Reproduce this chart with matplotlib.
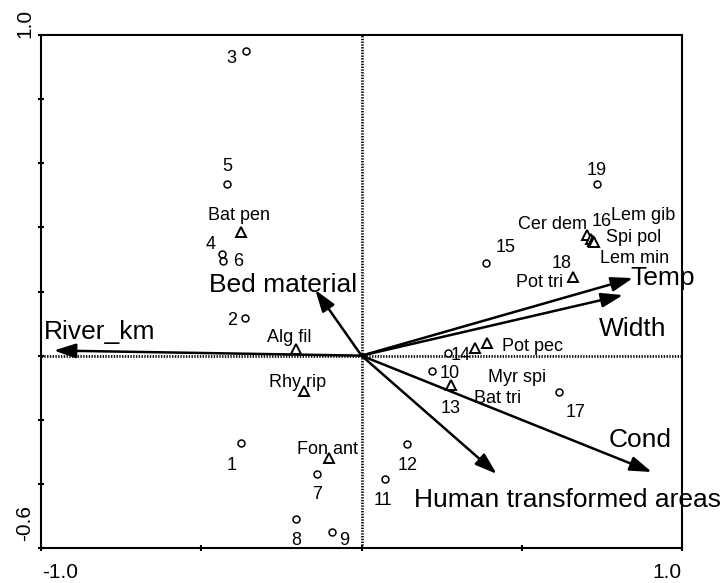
"""
CCA biplot — sites (circles), species (triangles), environmental arrows.
"""

import matplotlib
matplotlib.use('Agg')
import matplotlib.pyplot as plt

plt.rcParams['font.family'] = ['Liberation Sans', 'DejaVu Sans']

# ── Data ─────────────────────────────────────────────────────────────────────
site_names = ['1', '2', '3', '4', '5', '6', '7', '8', '9', '10',
              '11', '12', '13', '14', '15', '16', '17', '18', '19']
site_x = [-0.375, -0.363, -0.359, -0.434, -0.419, -0.431, -0.138, -0.203, -0.091, 0.219,
          0.072, 0.141, 0.278, 0.269, 0.388, 0.713, 0.616, 0.659, 0.734]
site_y = [-0.273, 0.117, 0.950, 0.317, 0.535, 0.295, -0.369, -0.510, -0.550, -0.048,
          -0.385, -0.276, -0.092, 0.008, 0.289, 0.367, -0.114, 0.245, 0.535]

sp_names = ['Bat pen', 'Alg fil', 'Rhy rip', 'Fon ant', 'Bat tri', 'Myr spi',
            'Pot pec', 'Pot tri', 'Cer dem', 'Lem gib', 'Spi pol', 'Lem min']
sp_x = [-0.375, -0.203, -0.178, -0.100, 0.278, 0.353,
        0.391, 0.659, 0.703, 0.716, 0.722, 0.725]
sp_y = [0.385, 0.020, -0.110, -0.319, -0.092, 0.024,
        0.039, 0.245, 0.376, 0.363, 0.357, 0.354]

env_names = ['River_km', 'Bed material', 'Temp', 'Width', 'Cond',
             'Human transformed areas']
env_x = [-0.960, -0.144, 0.847, 0.816, 0.906, 0.422]
env_y = [0.016, 0.205, 0.242, 0.189, -0.363, -0.369]

# ── Label placement (offsets in pixels from the point) ──────────────────────
SITE_OFF = {'1': (-10, -22), '2': (-13, -2), '3': (-15, -7), '4': (-12, 10),
            '5': (0, 18), '6': (15, 0), '7': (0, -21), '8': (0, -21),
            '9': (12, -9), '10': (18, -2), '11': (-2, -21), '12': (1, -21),
            '13': (0, -23), '14': (13, -2), '15': (20, 15), '16': (12, 16),
            '17': (17, -20), '18': (-11, 14), '19': (0, 14)}
HIDDEN_SITES = {'13', '16', '18'}   # markers lie under species triangles

SP_OFF = {'Bat pen': (-2, 17), 'Alg fil': (-7, 12), 'Rhy rip': (-7, 8),
          'Fon ant': (-2, 8), 'Bat tri': (47, -13), 'Myr spi': (42, -30),
          'Pot pec': (46, -3), 'Pot tri': (-33, -5), 'Cer dem': (-34, 11),
          'Lem gib': (52, 24), 'Spi pol': (41, 4), 'Lem min': (41, -16)}

ENV_OFF = {'River_km': (46, 19), 'Bed material': (-32, 5), 'Temp': (30, 0),
           'Width': (10, -34), 'Cond': (-12, 32),
           'Human transformed areas': (71, -26)}

FS_SMALL = 13
FS_ENV = 19
FS_TICK = 15


def main():
    fig = plt.figure(figsize=(7.26, 5.83), dpi=100)
    ax = fig.add_axes([0.0565, 0.0600, 0.8829, 0.8799])
    ax.set_xlim(-1.0, 1.0)
    ax.set_ylim(-0.6, 1.0)

    for sp in ax.spines.values():
        sp.set_linewidth(1.5)
    ax.set_xticks([-1.0, -0.5, 0.0, 0.5, 1.0])
    ax.set_yticks([-0.6, -0.4, -0.2, 0.0, 0.2, 0.4, 0.6, 0.8, 1.0])
    ax.tick_params(direction='inout', length=5, width=1.5,
                   labelbottom=False, labelleft=False)

    # end-of-axis labels
    ax.text(0.030, -0.047, '-1.0', transform=ax.transAxes, ha='center',
            va='center', fontsize=FS_TICK)
    ax.text(0.977, -0.047, '1.0', transform=ax.transAxes, ha='center',
            va='center', fontsize=FS_TICK)
    ax.text(-0.025, 1.023, '1.0', transform=ax.transAxes, ha='center',
            va='center', fontsize=FS_TICK, rotation=90)
    ax.text(-0.025, 0.049, '-0.6', transform=ax.transAxes, ha='center',
            va='center', fontsize=FS_TICK, rotation=90)

    # dotted zero lines
    ax.axhline(0, color='#111111', lw=2.0, ls=(0, (0.5, 0.5)), zorder=1)
    ax.axvline(0, color='#111111', lw=2.0, ls=(0, (0.5, 0.5)), zorder=1)

    # environmental arrows
    for name, x, y in zip(env_names, env_x, env_y):
        ax.annotate('', xy=(x, y), xytext=(0, 0),
                    arrowprops=dict(arrowstyle='-|>,head_length=0.6,head_width=0.2',
                                    color='black', lw=1.8, mutation_scale=22,
                                    shrinkA=0, shrinkB=0), zorder=3)
        ax.annotate(name, xy=(x, y), xytext=ENV_OFF[name],
                    textcoords='offset pixels', ha='center', va='center',
                    fontsize=FS_ENV, zorder=5, annotation_clip=False)

    # sites
    for name, x, y in zip(site_names, site_x, site_y):
        if name not in HIDDEN_SITES:
            ax.plot(x, y, 'o', ms=5, mfc='white', mec='black', mew=1.1, zorder=4)
        ax.annotate(name, xy=(x, y), xytext=SITE_OFF[name],
                    textcoords='offset pixels', ha='center', va='center',
                    fontsize=FS_SMALL, zorder=5)

    # species
    for name, x, y in zip(sp_names, sp_x, sp_y):
        ax.plot(x, y, '^', ms=7, mfc='white', mec='black', mew=1.4, zorder=4)
        ax.annotate(name, xy=(x, y), xytext=SP_OFF[name],
                    textcoords='offset pixels', ha='center', va='center',
                    fontsize=FS_SMALL, zorder=5)

    fig.savefig('out.png', dpi=100, facecolor='white')
    plt.close(fig)


if __name__ == '__main__':
    main()
